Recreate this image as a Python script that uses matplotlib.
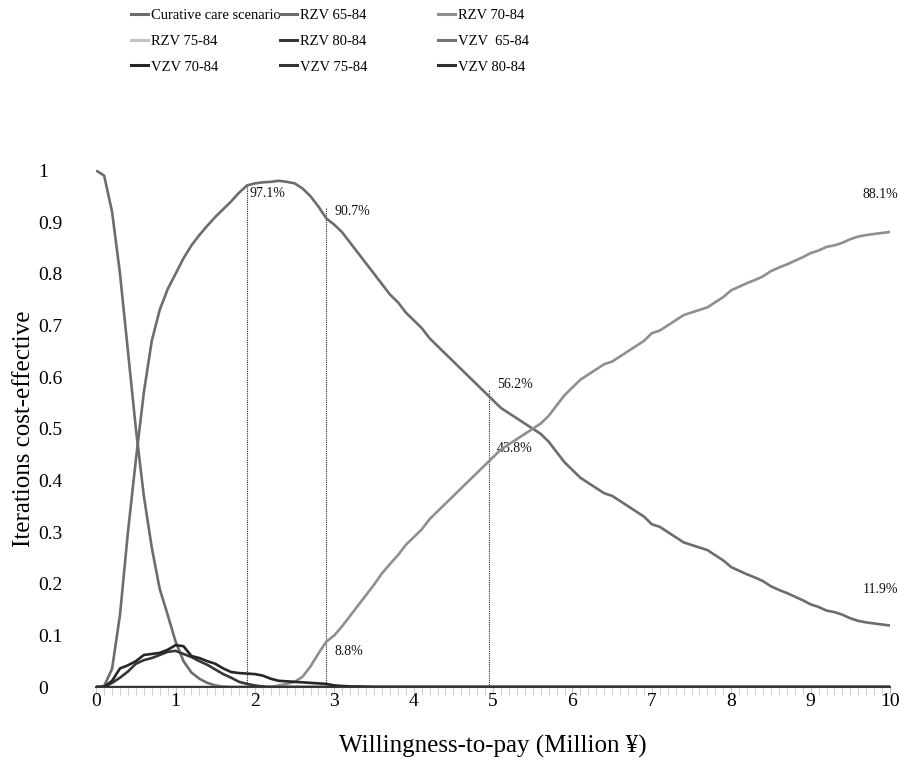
import numpy as np
import matplotlib
matplotlib.use("Agg")
import matplotlib.pyplot as plt
from matplotlib.lines import Line2D

plt.rcParams['font.family'] = ['Liberation Serif', 'DejaVu Serif']

# Willingness-to-pay grid (million yen)
wtp_fine = [0.0, 0.1, 0.2, 0.3, 0.4, 0.5, 0.6, 0.7, 0.8, 0.9, 1.0, 1.1, 1.2, 1.3, 1.4,
            1.5, 1.6, 1.7, 1.8, 1.9, 2.0, 2.1, 2.2, 2.3, 2.4, 2.5, 2.6, 2.7, 2.8, 2.9,
            3.0, 3.1, 3.2, 3.3, 3.4, 3.5, 3.6, 3.7, 3.8, 3.9, 4.0, 4.1, 4.2, 4.3, 4.4,
            4.5, 4.6, 4.7, 4.8, 4.9, 5.0, 5.1, 5.2, 5.3, 5.4, 5.5, 5.6, 5.7, 5.8, 5.9,
            6.0, 6.1, 6.2, 6.3, 6.4, 6.5, 6.6, 6.7, 6.8, 6.9, 7.0, 7.1, 7.2, 7.3, 7.4,
            7.5, 7.6, 7.7, 7.8, 7.9, 8.0, 8.1, 8.2, 8.3, 8.4, 8.5, 8.6, 8.7, 8.8, 8.9,
            9.0, 9.1, 9.2, 9.3, 9.4, 9.5, 9.6, 9.7, 9.8, 9.9, 10.0]

curative = [1.0, 0.99, 0.92, 0.80, 0.65, 0.50, 0.37, 0.27, 0.19, 0.14, 0.088, 0.05,
            0.028, 0.016, 0.008, 0.003, 0.001] + [0.0] * 84

rzv_65_84 = [0.0, 0.002, 0.035, 0.14, 0.30, 0.44, 0.57, 0.67, 0.73, 0.77, 0.80,
             0.83, 0.855, 0.875, 0.893, 0.91, 0.925, 0.94, 0.957, 0.971, 0.975, 0.977,
             0.978, 0.98, 0.978, 0.975, 0.965, 0.95, 0.93, 0.907, 0.895, 0.88, 0.86,
             0.84, 0.82, 0.80, 0.78, 0.76, 0.745, 0.725, 0.71, 0.695, 0.675, 0.66,
             0.645, 0.63, 0.615, 0.60, 0.585, 0.57, 0.555, 0.54, 0.53, 0.52, 0.51,
             0.50, 0.49, 0.475, 0.455, 0.435, 0.42, 0.405, 0.395, 0.385, 0.375, 0.37,
             0.36, 0.35, 0.34, 0.33, 0.315, 0.31, 0.30, 0.29, 0.28, 0.275, 0.27, 0.265,
             0.255, 0.245, 0.232, 0.225, 0.218, 0.212, 0.205, 0.195, 0.188, 0.182,
             0.175, 0.168, 0.16, 0.155, 0.148, 0.145, 0.14, 0.133, 0.128, 0.125, 0.123,
             0.121, 0.119]

rzv_70_84 = [0.0] * 23 + [0.003, 0.006, 0.01, 0.02, 0.04, 0.065, 0.088, 0.10, 0.118,
             0.138, 0.158, 0.178, 0.198, 0.22, 0.238, 0.255, 0.275, 0.29, 0.305, 0.325,
             0.34, 0.355, 0.37, 0.385, 0.40, 0.415, 0.43, 0.445, 0.46, 0.47, 0.48,
             0.49, 0.50, 0.51, 0.525, 0.545, 0.565, 0.58, 0.595, 0.605, 0.615, 0.625,
             0.63, 0.64, 0.65, 0.66, 0.67, 0.685, 0.69, 0.70, 0.71, 0.72, 0.725, 0.73,
             0.735, 0.745, 0.755, 0.768, 0.775, 0.782, 0.788, 0.795, 0.805, 0.812,
             0.818, 0.825, 0.832, 0.84, 0.845, 0.852, 0.855, 0.86, 0.867, 0.872, 0.875,
             0.877, 0.879, 0.881]

vzv_70_84 = [0.0, 0.0, 0.012, 0.036, 0.042, 0.05, 0.062, 0.064, 0.066, 0.072, 0.081,
             0.079, 0.06, 0.056, 0.05, 0.045, 0.036, 0.029, 0.027, 0.026, 0.025, 0.022,
             0.016, 0.012, 0.011, 0.01, 0.009, 0.008, 0.007, 0.006, 0.003, 0.002, 0.001,
             0.001, 0.0005] + [0.0] * 66

rzv_80_84 = [0.0, 0.0, 0.008, 0.018, 0.03, 0.045, 0.052, 0.056, 0.062, 0.068, 0.07,
             0.064, 0.058, 0.05, 0.043, 0.034, 0.025, 0.018, 0.01, 0.006, 0.003, 0.001,
             0.0] + [0.0] * 78

zero_series = [0.0] * 101

series = [
    ("Curative care scenario", curative, "#6d6d6d"),
    ("RZV 65-84", rzv_65_84, "#6d6d6d"),
    ("RZV 70-84", rzv_70_84, "#8f8f8f"),
    ("RZV 75-84", zero_series, "#c4c4c4"),
    ("RZV 80-84", rzv_80_84, "#383838"),
    ("VZV  65-84", zero_series, "#737373"),
    ("VZV 70-84", vzv_70_84, "#262626"),
    ("VZV 75-84", zero_series, "#333333"),
    ("VZV 80-84", zero_series, "#2e2e2e"),
]

# reference lines (WTP, height reached) and annotations
ref_x = [1.9, 2.9, 4.95]
ref_top = [0.975, 0.93, 0.575]
notes = [(1.93, 0.955, "97.1%", "left"), (3.0, 0.92, "90.7%", "left"),
         (5.05, 0.585, "56.2%", "left"), (5.05, 0.462, "43.8%", "left"),
         (3.0, 0.068, "8.8%", "left"), (10.1, 0.953, "88.1%", "right"),
         (10.1, 0.188, "11.9%", "right")]

fig = plt.figure(figsize=(8.99, 7.63), dpi=100)
ax = fig.add_axes([0.107, 0.0996, 0.883, 0.677])

order = [3, 5, 7, 8, 2, 1, 0, 4, 6]
for i in order:
    name, vals, col = series[i]
    ax.plot(wtp_fine, vals, color=col, lw=1.9, solid_joinstyle='round', zorder=3 + i * 0.1)

for x, top in zip(ref_x, ref_top):
    ax.plot([x, x], [0, top], color='#222222', lw=0.8, ls=(0, (1, 1)), zorder=2)

for x, y, t, ha in notes:
    ax.text(x, y, t, fontsize=10, ha=ha, va='center', color='#111111', clip_on=False)

ax.set_xlim(0, 10)
ax.set_ylim(0, 1)
ax.set_xticks(range(0, 11))
ax.set_xticks(np.arange(0, 10.01, 0.1), minor=True)
ax.set_yticks(np.arange(0, 1.01, 0.1))
ax.set_yticklabels(["0", "0.1", "0.2", "0.3", "0.4", "0.5", "0.6", "0.7", "0.8", "0.9", "1"])
for lab in ax.get_yticklabels():
    lab.set_horizontalalignment('left')
ax.tick_params(axis='x', which='both', direction='out', length=6, color='#c8c8c8',
               labelsize=14, pad=-2)
ax.tick_params(axis='y', length=0, labelsize=14, pad=42)
for s in ['top', 'right', 'left']:
    ax.spines[s].set_visible(False)
ax.spines['bottom'].set_color('#3a3a3a')
ax.spines['bottom'].set_linewidth(1.5)

ax.set_xlabel("Willingness-to-pay (Million \u00a5)", fontsize=18, labelpad=18)
ax.set_ylabel("Iterations cost-effective", fontsize=18)
ax.yaxis.set_label_coords(-0.077, 0.5)

# legend: three columns placed by hand
col_x = [0.1457, 0.3115, 0.487]
for c in range(3):
    handles = []
    labels = []
    for r in range(3):
        name, vals, col = series[r * 3 + c]
        handles.append(Line2D([], [], color=col, lw=2.2))
        labels.append(name)
    fig.legend(handles, labels, loc='upper left', bbox_to_anchor=(col_x[c], 0.988),
               frameon=False, fontsize=10.5, handlelength=1.15, handletextpad=0.2,
               labelspacing=0.85, borderpad=0.0, borderaxespad=0.0)

fig.savefig("out.png", dpi=100)
